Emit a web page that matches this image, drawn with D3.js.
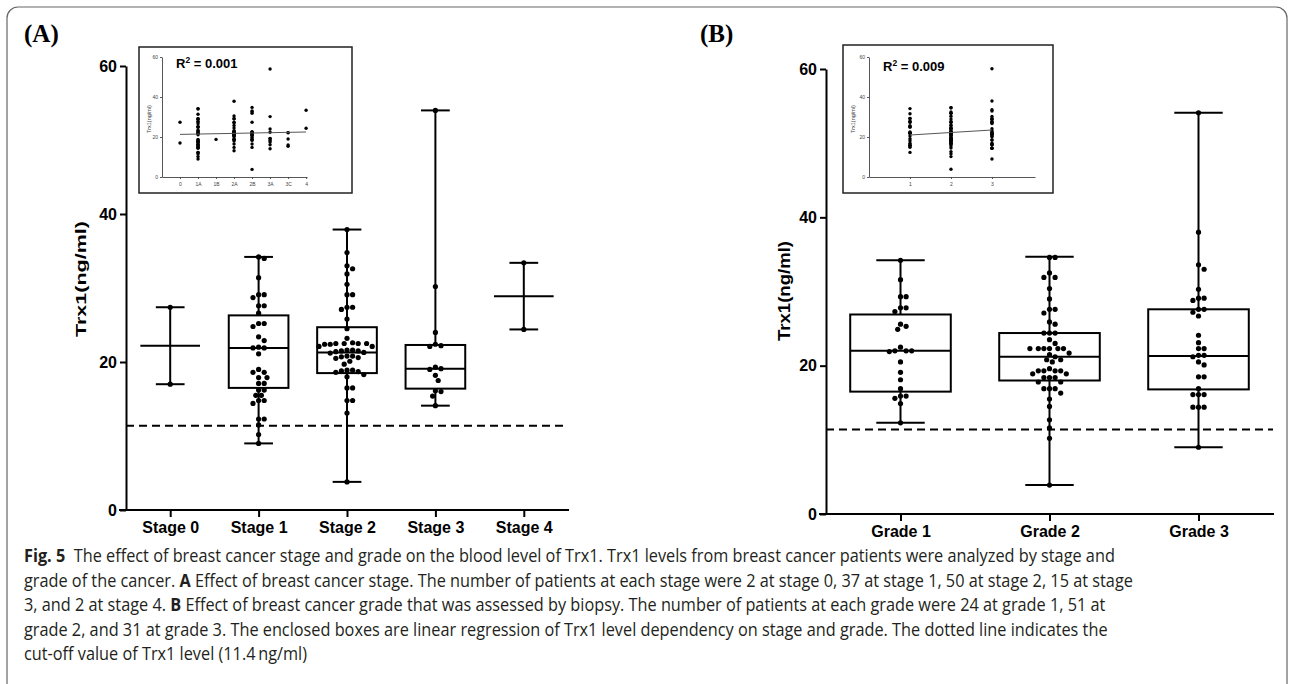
<!DOCTYPE html>
<html>
<head>
<meta charset="utf-8">
<script src="https://cdn.jsdelivr.net/npm/d3@7"></script>
<style>
  body { margin: 0; background: #fff; }
  svg { display: block; }
</style>
</head>
<body>
<div id="wrapper"></div>
<script>
// ---- DATA ----
const stages = ["Stage 0", "Stage 1", "Stage 2", "Stage 3", "Stage 4"];
const stage0 = [27.4, 17.0];
const stage1 = [34.2, 34.0, 31.4, 29.1, 29.1, 28.7, 27.6, 27.6, 26.6, 25.2, 25.2, 24.8, 23.4, 22.9, 22.0, 21.9, 21.9, 21.1,
  19.0, 18.6, 18.6, 17.9, 17.9, 17.1, 17.1, 16.2, 16.2, 15.5, 15.5, 14.8, 14.8, 14.4, 12.3, 12.3, 11.5, 10.2, 9.0];
const stage2 = [37.9, 34.8, 33.0, 32.6, 31.9, 30.5, 29.1, 29.1, 27.4, 27.4, 27.1, 25.8, 24.5, 23.2, 22.6, 22.5, 22.5, 22.5,
  22.5, 22.4, 22.4, 22.1, 22.1, 21.6, 21.6, 21.5, 21.5, 21.4, 21.3, 21.2, 20.8, 20.8, 20.7, 20.6, 20.5, 20.1, 19.7, 18.9,
  18.9, 18.8, 18.7, 18.6, 18.3, 18.0, 16.5, 16.5, 14.8, 14.8, 13.1, 3.8];
const stage3 = [54.0, 30.2, 24.0, 22.4, 22.2, 22.1, 19.3, 19.1, 19.0, 18.2, 17.5, 16.1, 16.0, 15.4, 14.1];
const stage4 = [33.4, 24.4];
const stageValues = [stage0, stage1, stage2, stage3, stage4];
// box summary: min, q1, median, q3, max
const stageMin = [17.0, 9.0, 3.8, 14.1, 24.4];
const stageQ1 = [22.2, 16.5, 18.5, 16.4, 28.9];
const stageMed = [22.2, 21.9, 21.3, 19.1, 28.9];
const stageQ3 = [22.2, 26.3, 24.7, 22.3, 28.9];
const stageMax = [27.4, 34.2, 37.9, 54.0, 33.4];

const grades = ["Grade 1", "Grade 2", "Grade 3"];
const grade1 = [34.2, 31.6, 29.3, 29.3, 27.8, 27.8, 27.3, 25.6, 25.3, 24.9, 22.5, 22.0, 22.0, 22.0, 21.9, 20.5, 19.1, 18.1,
  16.9, 15.9, 15.9, 15.6, 14.9, 12.3];
const grade2 = [34.6, 34.6, 32.5, 31.9, 31.9, 30.4, 29.0, 27.6, 27.6, 27.1, 25.9, 25.6, 24.4, 24.4, 24.4, 23.5, 23.0, 22.3,
  22.3, 22.3, 22.3, 22.3, 22.3, 21.7, 21.5, 21.2, 20.8, 20.8, 20.5, 19.6, 19.3, 19.3, 19.3, 19.3, 18.9, 18.9, 18.4, 18.4,
  18.4, 17.8, 17.8, 16.9, 16.9, 16.9, 16.3, 15.5, 14.5, 12.7, 11.6, 10.2, 3.9];
const grade3 = [54.1, 38.0, 33.6, 33.0, 30.3, 29.1, 29.1, 28.8, 27.6, 27.6, 27.2, 26.7, 24.1, 23.1, 22.3, 22.3, 21.4, 21.4,
  21.2, 20.5, 20.1, 18.5, 18.5, 16.9, 16.1, 16.1, 16.1, 14.4, 14.4, 14.4, 9.0];
const gradeValues = [grade1, grade2, grade3];
const gradeMin = [12.3, 3.9, 9.0];
const gradeQ1 = [16.5, 18.0, 16.8];
const gradeMed = [22.0, 21.2, 21.3];
const gradeQ3 = [26.9, 24.4, 27.6];
const gradeMax = [34.2, 34.7, 54.1];

const cutoff = 11.4;
const yTicks = [0, 20, 40, 60];

// inset (A): sub-stages
const subStages = ["0", "1A", "1B", "2A", "2B", "3A", "3C", "4"];
const sub0 = [27.4, 17.0];
const sub1A = [34.2, 34.0, 31.4, 29.1, 29.1, 28.7, 27.6, 27.6, 26.6, 25.2, 25.2, 24.8, 23.4, 22.9, 22.0, 21.9, 21.9, 21.1,
  18.6, 18.6, 17.9, 17.9, 17.1, 17.1, 16.2, 16.2, 15.5, 15.5, 14.8, 14.8, 14.4, 12.3, 12.3, 11.5, 10.2, 9.0];
const sub1B = [18.8];
const sub2A = [37.9, 30.5, 29.1, 29.1, 27.4, 27.1, 25.8, 24.5, 23.2, 22.6, 22.5, 22.5, 22.4, 22.1, 21.6, 21.5, 21.4, 21.2,
  20.8, 20.7, 20.5, 20.1, 18.9, 18.8, 18.6, 18.0, 16.5, 14.8, 13.1];
const sub2B = [34.8, 33.0, 32.6, 31.9, 27.4, 22.5, 22.5, 22.4, 22.1, 21.6, 21.5, 21.3, 20.8, 20.6, 19.7, 18.9, 18.7, 18.3,
  16.5, 14.8, 3.8];
const sub3A = [54.0, 30.2, 24.0, 22.4, 19.3, 19.1, 18.2, 17.5, 16.1, 14.1];
const sub3C = [22.2, 22.1, 19.0, 16.0, 15.4];
const sub4 = [33.4, 24.4];
const subValues = [sub0, sub1A, sub1B, sub2A, sub2B, sub3A, sub3C, sub4];
const regA = [[1, 21.3], [8, 22.5]];
const r2A = "0.001";

// inset (B)
const subGrades = ["1", "2", "3"];
const regB = [[1, 21.0], [3, 23.5]];
const r2B = "0.009";

const captionLines = [
  [["Fig. 5", true], ["  The effect of breast cancer stage and grade on the blood level of Trx1. Trx1 levels from breast cancer patients were analyzed by stage and", false]],
  [["grade of the cancer. ", false], ["A", true], [" Effect of breast cancer stage. The number of patients at each stage were 2 at stage 0, 37 at stage 1, 50 at stage 2, 15 at stage", false]],
  [["3, and 2 at stage 4. ", false], ["B", true], [" Effect of breast cancer grade that was assessed by biopsy. The number of patients at each grade were 24 at grade 1, 51 at", false]],
  [["grade 2, and 31 at grade 3. The enclosed boxes are linear regression of Trx1 level dependency on stage and grade. The dotted line indicates the", false]],
  [["cut-off value of Trx1 level (11.4\u2009ng/ml)", false]]
];

// ---- DRAWING ----
const width = 1292, height = 684;
const svg = d3.select("#wrapper").append("svg")
  .attr("width", width)
  .attr("height", height);

svg.append("rect")
  .attr("x", 7).attr("y", 7)
  .attr("width", 1280).attr("height", 720)
  .attr("rx", 11)
  .attr("fill", "none")
  .attr("stroke", "#666")
  .attr("stroke-width", 1.2);

const sansBold = "'Liberation Sans', Arial, sans-serif";

function swarm(values, cx, y, r) {
  const d = 2 * r + 0.4;
  const placed = [];
  values.slice().sort((a, b) => b - a).forEach(v => {
    const py = y(v);
    let k = 0, dx = 0;
    while (true) {
      dx = k === 0 ? 0 : (k % 2 ? 1 : -1) * Math.ceil(k / 2) * (d / 2);
      const hit = placed.some(p => (p.dx - dx) ** 2 + (p.y - py) ** 2 < d * d);
      if (!hit) break;
      k++;
    }
    placed.push({ dx, y: py });
  });
  return placed.map(p => ({ x: cx + p.dx, y: p.y }));
}

function drawPanel(cfg) {
  const g = svg.append("g");
  const x = d3.scalePoint().domain(cfg.cats).range([cfg.x0, cfg.x1]).padding(0.5);
  const y = d3.scaleLinear().domain([0, 60]).range([cfg.y0, cfg.y1]);
  const step = x.step();
  const boxW = step * 0.675, capW = step * 0.325;

  // cut-off line
  g.append("line")
    .attr("x1", cfg.x0).attr("x2", cfg.x1)
    .attr("y1", y(cutoff)).attr("y2", y(cutoff))
    .attr("stroke", "#000").attr("stroke-width", 2)
    .attr("stroke-dasharray", "8,5");

  cfg.cats.forEach((c, i) => {
    const cx = x(c);
    const bg = g.append("g").attr("stroke", "#000").attr("stroke-width", 2).attr("fill", "none");
    bg.append("line").attr("x1", cx).attr("x2", cx).attr("y1", y(cfg.max[i])).attr("y2", y(cfg.q3[i]));
    bg.append("line").attr("x1", cx).attr("x2", cx).attr("y1", y(cfg.q1[i])).attr("y2", y(cfg.min[i]));
    bg.append("line").attr("x1", cx - capW / 2).attr("x2", cx + capW / 2).attr("y1", y(cfg.max[i])).attr("y2", y(cfg.max[i]));
    bg.append("line").attr("x1", cx - capW / 2).attr("x2", cx + capW / 2).attr("y1", y(cfg.min[i])).attr("y2", y(cfg.min[i]));
    if (cfg.q3[i] > cfg.q1[i]) {
      bg.append("rect").attr("x", cx - boxW / 2).attr("width", boxW)
        .attr("y", y(cfg.q3[i])).attr("height", y(cfg.q1[i]) - y(cfg.q3[i]))
        .attr("fill", "rgba(255,255,255,0)");
    }
    bg.append("line").attr("x1", cx - boxW / 2).attr("x2", cx + boxW / 2).attr("y1", y(cfg.med[i])).attr("y2", y(cfg.med[i]));

    g.append("g").selectAll("circle")
      .data(swarm(cfg.values[i], cx, y, 2.6))
      .join("circle")
      .attr("cx", d => d.x).attr("cy", d => d.y).attr("r", 2.6)
      .attr("fill", "#000");
  });

  const yAxis = g.append("g")
    .attr("transform", `translate(${cfg.x0},0)`)
    .call(d3.axisLeft(y).tickValues(yTicks).tickSize(6).tickSizeOuter(0).tickPadding(3));
  const xAxis = g.append("g")
    .attr("transform", `translate(0,${cfg.y0})`)
    .call(d3.axisBottom(x).tickSize(6).tickSizeOuter(0).tickPadding(6));
  [yAxis, xAxis].forEach(a => {
    a.select(".domain").attr("stroke-width", 2).attr("stroke", "#000");
    a.selectAll(".tick line").attr("stroke-width", 2).attr("stroke", "#000");
    a.selectAll(".tick text").attr("font-family", sansBold).attr("font-weight", "bold")
      .attr("font-size", 16).attr("fill", "#000");
  });
  xAxis.attr("stroke-linecap", "square");
  xAxis.select(".domain").attr("d", `M${cfg.x0 - 6},0H${cfg.x1}`);

  g.append("text")
    .attr("transform", `translate(${cfg.labelX},${cfg.labelY}) rotate(-90)`)
    .attr("text-anchor", "middle")
    .attr("font-family", sansBold).attr("font-weight", "bold")
    .attr("font-size", cfg.labelSize)
    .attr("textLength", cfg.labelLen).attr("lengthAdjust", "spacingAndGlyphs")
    .text("Trx1(ng/ml)");

  svg.append("text")
    .attr("x", cfg.tagX).attr("y", 42)
    .attr("font-family", "'Liberation Serif', 'Times New Roman', serif")
    .attr("font-weight", "bold").attr("font-size", 25)
    .text(cfg.tag);
}

function drawInset(cfg) {
  const g = svg.append("g");
  g.append("rect")
    .attr("x", cfg.bx).attr("y", cfg.by).attr("width", cfg.bw).attr("height", cfg.bh)
    .attr("fill", "#fff").attr("stroke", "#222").attr("stroke-width", 1.5);
  const x = d3.scaleLinear().domain([0, cfg.xMax]).range([cfg.x0, cfg.x1]);
  const y = d3.scaleLinear().domain([0, 60]).range([cfg.y0, cfg.y1]);

  cfg.values.forEach((vals, i) => {
    g.append("g").selectAll("circle")
      .data(vals).join("circle")
      .attr("cx", x(i + 1)).attr("cy", d => y(d)).attr("r", 1.7)
      .attr("fill", "#000");
  });
  g.append("line")
    .attr("x1", x(cfg.reg[0][0])).attr("y1", y(cfg.reg[0][1]))
    .attr("x2", x(cfg.reg[1][0])).attr("y2", y(cfg.reg[1][1]))
    .attr("stroke", "#555").attr("stroke-width", 1);

  const yAxis = g.append("g").attr("transform", `translate(${cfg.x0},0)`)
    .call(d3.axisLeft(y).tickValues(yTicks).tickSize(2).tickSizeOuter(0).tickPadding(2));
  const xAxis = g.append("g").attr("transform", `translate(0,${cfg.y0})`)
    .call(d3.axisBottom(x).tickValues(d3.range(1, cfg.cats.length + 1))
      .tickFormat(d => cfg.cats[d - 1]).tickSize(2).tickSizeOuter(0).tickPadding(3));
  [yAxis, xAxis].forEach(a => {
    a.select(".domain").attr("stroke", "#444").attr("stroke-width", 0.9);
    a.selectAll(".tick line").attr("stroke", "#444").attr("stroke-width", 0.9);
    a.selectAll(".tick text").attr("font-family", sansBold).attr("font-size", 5).attr("fill", "#444");
  });

  g.append("text")
    .attr("transform", `translate(${cfg.labelX},${(cfg.y0 + cfg.y1) / 2 + 2}) rotate(-90)`)
    .attr("text-anchor", "middle")
    .attr("font-family", sansBold).attr("font-size", 5.5).attr("fill", "#444")
    .text("Trx1(ng/ml)");

  const t = g.append("text")
    .attr("x", cfg.rx).attr("y", cfg.ry)
    .attr("font-family", sansBold).attr("font-weight", "bold").attr("font-size", 13);
  t.append("tspan").text("R");
  t.append("tspan").attr("font-size", 8.5).attr("dy", -5).text("2");
  t.append("tspan").attr("dy", 5).text(" = " + cfg.r2);
}

drawPanel({
  cats: stages, values: stageValues,
  min: stageMin, q1: stageQ1, med: stageMed, q3: stageQ3, max: stageMax,
  x0: 126, x1: 568, y0: 510, y1: 66,
  labelX: 86, labelY: 279, labelSize: 15, labelLen: 116, tagX: 24, tag: "(A)"
});
drawPanel({
  cats: grades, values: gradeValues,
  min: gradeMin, q1: gradeQ1, med: gradeMed, q3: gradeQ3, max: gradeMax,
  x0: 826, x1: 1273, y0: 514, y1: 69,
  labelX: 790, labelY: 291, labelSize: 17, labelLen: 100, tagX: 700, tag: "(B)"
});

drawInset({
  bx: 139, by: 47, bw: 213, bh: 146,
  cats: subStages, values: subValues, xMax: 8.05,
  x0: 162, x1: 307, y0: 177, y1: 57,
  reg: regA, r2: r2A, rx: 176, ry: 68, labelX: 151
});
drawInset({
  bx: 843, by: 45, bw: 210, bh: 148,
  cats: subGrades, values: gradeValues, xMax: 4.05,
  x0: 869, x1: 1035, y0: 177, y1: 57,
  reg: regB, r2: r2B, rx: 883, ry: 71, labelX: 855
});

// caption: one common horizontal squeeze so that the first line ends where the reference's does
const capX = 24;
const capBase = [562, 587, 611, 636, 660];
const capNodes = captionLines.map(parts => {
  const t = svg.append("text")
    .attr("font-family", "'Open Sans', 'Noto Sans', sans-serif")
    .attr("font-size", 17.5)
    .attr("fill", "#231f20")
    .style("white-space", "pre");
  parts.forEach(([s, b]) => {
    t.append("tspan").attr("font-weight", b ? "bold" : "normal").text(s);
  });
  return t;
});
const sx = (1116 - capX) / capNodes[0].node().getComputedTextLength();
capNodes.forEach((t, i) => t.attr("transform", `translate(${capX},${capBase[i]}) scale(${sx},1)`));
</script>
</body>
</html>
